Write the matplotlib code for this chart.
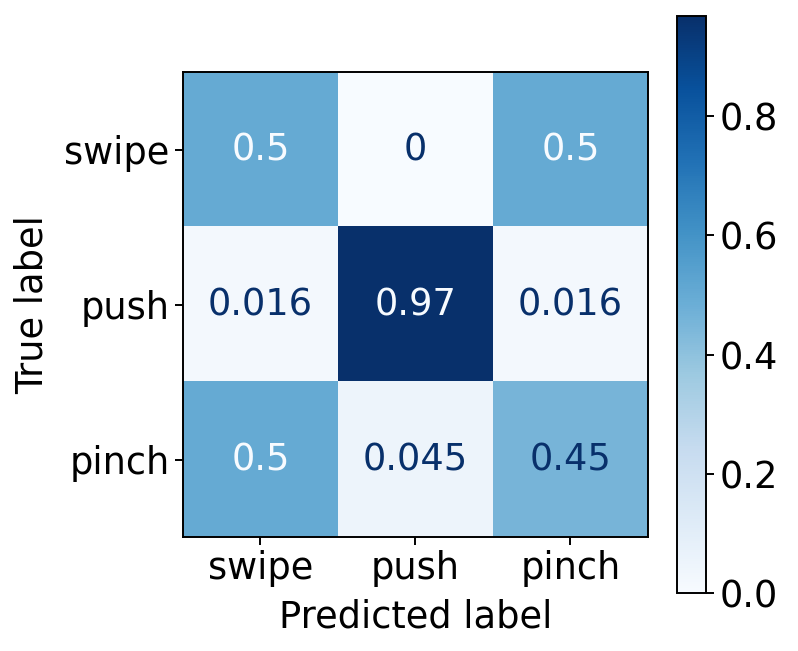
import numpy as np
import matplotlib
matplotlib.use('Agg')
import matplotlib.pyplot as plt

# Confusion matrix values (rows = true label, columns = predicted label)
labels = ['swipe', 'push', 'pinch']
row_swipe = [0.5, 0.0, 0.5]
row_push = [0.016, 0.968, 0.016]
row_pinch = [0.5, 0.0455, 0.4545]
cm = np.array([row_swipe, row_push, row_pinch])

fs = 26.5
plt.rcParams['font.size'] = fs

fig = plt.figure(figsize=(7.98, 6.51), dpi=100)
ax = fig.add_axes([0.2293, 0.1751, 0.5827, 0.7143])
cax = fig.add_axes([0.8484, 0.0891, 0.0363, 0.8863])

cmap = plt.get_cmap('Blues')
im = ax.imshow(cm, interpolation='nearest', cmap=cmap,
               vmin=cm.min(), vmax=cm.max(), aspect='auto')

# text colour like sklearn's ConfusionMatrixDisplay
thresh = (cm.max() + cm.min()) / 2.0
for i in range(cm.shape[0]):
    for j in range(cm.shape[1]):
        color = cmap(1.0) if cm[i, j] < thresh else cmap(0.0)
        ax.text(j, i, format(cm[i, j], '.2g'), ha='center', va='center',
                color=color, fontsize=fs)

ax.set_xticks(range(len(labels)))
ax.set_xticklabels(labels)
ax.set_yticks(range(len(labels)))
ax.set_yticklabels(labels)
ax.set_xlabel('Predicted label', fontsize=fs, labelpad=8)
ax.set_ylabel('True label', fontsize=fs, labelpad=10)
ax.tick_params(length=6, width=1.4, labelsize=fs)
for s in ax.spines.values():
    s.set_linewidth(1.4)

cb = fig.colorbar(im, cax=cax)
cb.set_ticks([0.0, 0.2, 0.4, 0.6, 0.8])
cb.ax.tick_params(length=6, width=1.4, labelsize=fs)
cb.outline.set_linewidth(1.4)

fig.savefig('out.png', dpi=100)
